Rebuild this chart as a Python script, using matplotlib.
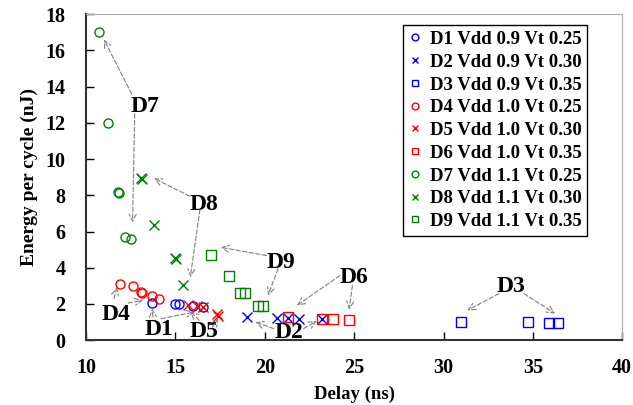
import matplotlib
matplotlib.use("Agg")
import matplotlib.pyplot as plt

plt.rcParams['font.family'] = ['Liberation Serif', 'DejaVu Serif']
plt.rcParams['font.weight'] = 'bold'

# data (delay in ns, energy in nJ)
d1_delay = [13.7, 15.0, 15.2, 16.0, 16.55]
d1_energy = [2.05, 2.0, 2.0, 1.88, 1.83]
d2_delay = [19.0, 20.7, 21.3, 21.9, 23.2]
d2_energy = [1.3, 1.25, 1.25, 1.15, 1.15]
d3_delay = [31.0, 34.7, 35.9, 36.4]
d3_energy = [1.0, 1.0, 0.95, 0.95]
d4_delay = [11.9, 12.6, 13.1, 13.15, 13.7, 14.1]
d4_energy = [3.1, 2.97, 2.68, 2.6, 2.42, 2.27]
d5_delay = [15.7, 16.2, 16.55, 17.3, 17.4]
d5_energy = [1.92, 1.87, 1.83, 1.47, 1.32]
d6_delay = [21.3, 23.2, 23.8, 24.7]
d6_energy = [1.28, 1.19, 1.15, 1.1]
d7_delay = [10.7, 11.2, 11.8, 11.85, 12.2, 12.5]
d7_energy = [17.0, 12.0, 8.2, 8.15, 5.7, 5.6]
d8_delay = [13.05, 13.15, 13.8, 15.0, 15.05, 15.4]
d8_energy = [8.95, 8.9, 6.35, 4.55, 4.5, 3.06]
d9_delay = [17.0, 18.0, 18.6, 18.9, 19.6, 19.9]
d9_energy = [4.7, 3.55, 2.6, 2.6, 1.9, 1.9]

labels = ["D1 Vdd 0.9 Vt 0.25", "D2 Vdd 0.9 Vt 0.30", "D3 Vdd 0.9 Vt 0.35",
          "D4 Vdd 1.0 Vt 0.25", "D5 Vdd 1.0 Vt 0.30", "D6 Vdd 1.0 Vt 0.35",
          "D7 Vdd 1.1 Vt 0.25", "D8 Vdd 1.1 Vt 0.30", "D9 Vdd 1.1 Vt 0.35"]

x_ticks = [10, 15, 20, 25, 30, 35, 40]
y_ticks = [0, 2, 4, 6, 8, 10, 12, 14, 16, 18]

# annotation labels: (text, text pos, [(tail, head), ...])
notes = [
    ("D7", (13.3, 12.9), [((12.55, 13.6), (11.0, 16.6)), ((12.72, 12.5), (12.6, 6.5))]),
    ("D8", (16.6, 7.5), [((15.8, 7.95), (13.8, 8.94)), ((16.37, 7.2), (15.83, 3.48))]),
    ("D9", (20.9, 4.3), [((20.1, 4.67), (17.54, 5.13)), ((20.74, 3.94), (20.18, 2.47))]),
    ("D6", (25.0, 3.46), [((24.2, 3.57), (21.8, 1.92)), ((24.9, 3.02), (24.72, 1.69))]),
    ("D3", (33.8, 2.97), [((33.1, 2.57), (31.33, 1.65)), ((34.5, 2.57), (36.24, 1.47))]),
    ("D2", (21.33, 0.44), [((20.5, 0.64), (19.48, 1.0)), ((22.17, 0.64), (22.9, 1.06))]),
    ("D4", (11.7, 1.43), [((11.56, 2.29), (11.74, 2.93)), ((12.35, 2.05), (13.18, 2.2))]),
    ("D1", (14.06, 0.59), [((13.74, 1.28), (13.7, 1.74)), ((14.2, 1.19), (16.06, 1.55))]),
    ("D5", (16.6, 0.46), [((16.33, 1.1), (15.83, 1.61)), ((17.06, 0.71), (17.39, 1.21))]),
]

fig = plt.figure(figsize=(6.33, 4.05), dpi=100)
ax = fig.add_axes([0.136, 0.16, 0.847, 0.805])

blue, red, green = '#0000ff', '#ff0000', '#008000'
series = [
    (d1_delay, d1_energy, 'o', blue), (d2_delay, d2_energy, 'x', blue), (d3_delay, d3_energy, 's', blue),
    (d4_delay, d4_energy, 'o', red), (d5_delay, d5_energy, 'x', red), (d6_delay, d6_energy, 's', red),
    (d7_delay, d7_energy, 'o', green), (d8_delay, d8_energy, 'x', green), (d9_delay, d9_energy, 's', green),
]
for (xs, ys, m, c), lab in zip(series, labels):
    ax.plot(xs, ys, linestyle='none', marker=m, markersize=6.5, markerfacecolor='none',
            markeredgecolor=c, markeredgewidth=1.0, label=lab)

for txt, pos, arrows in notes:
    ax.text(pos[0], pos[1], txt, fontsize=17, fontweight='bold', ha='center', va='center')
    for tail, head in arrows:
        ax.annotate('', xy=head, xytext=tail,
                    arrowprops=dict(arrowstyle='->,head_length=0.5,head_width=0.25',
                                    color='#808080', lw=0.8, linestyle=(0, (4, 2)),
                                    shrinkA=0, shrinkB=0))

ax.set_xlim(10, 40)
ax.set_ylim(0, 18)
ax.set_xticks(x_ticks)
ax.set_yticks(y_ticks)
ax.tick_params(direction='in', length=6, width=1, labelsize=14.5)
ax.tick_params(axis='x', pad=13)
ax.tick_params(axis='y', pad=15)
for lab in ax.get_xticklabels() + ax.get_yticklabels():
    lab.set_fontweight('bold')
ax.set_xlabel('Delay (ns)', fontsize=13.5, fontweight='bold', labelpad=5)
ax.set_ylabel('Energy per cycle (nJ)', fontsize=14, fontweight='bold', labelpad=5)

ax.spines['left'].set_color('#333333')
ax.spines['bottom'].set_color('#333333')
ax.spines['left'].set_linewidth(1.5)
ax.spines['bottom'].set_linewidth(1.5)
ax.spines['top'].set_color('#aaaaaa')
ax.spines['right'].set_color('#aaaaaa')

leg = ax.legend(loc='upper right', bbox_to_anchor=(0.935, 0.966), borderaxespad=0,
                fancybox=False, edgecolor='black', framealpha=1, markerscale=0.75,
                handlelength=0.7, handletextpad=0.45, labelspacing=0.3, borderpad=0.3,
                prop={'family': 'Liberation Serif', 'weight': 'bold', 'size': 13.5})
leg.get_frame().set_linewidth(1.0)

fig.savefig('out.png', dpi=100)
